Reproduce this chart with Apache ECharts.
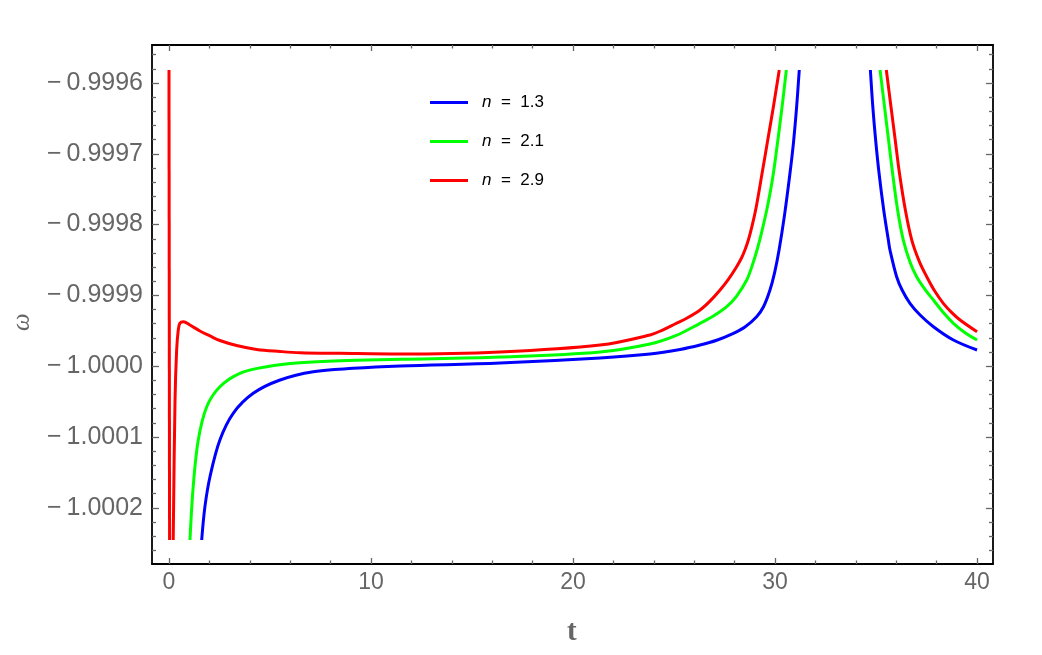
<!DOCTYPE html>
<html>
<head>
<meta charset="utf-8">
<script src="https://cdn.jsdelivr.net/npm/echarts@6/dist/echarts.min.js"></script>
<style>
  html, body { margin: 0; padding: 0; background: #fff; }
  #chart { width: 1042px; height: 655px; }
</style>
</head>
<body>
<div id="chart"></div>
<script>
// 曲线数据
const blueLeftT = [1.62, 1.78, 2.03, 2.52, 3.18, 4.17, 5.5, 7.14, 9.12, 11.44, 16.39, 21.34, 23.81, 25.3, 26.29, 27.11, 27.94, 28.51, 29.09, 29.43, 29.75, 29.98, 30.2, 30.47, 30.74, 30.91, 31.07, 31.2];
const blueLeftW = [-1.0002455, -1.0001984, -1.0001561, -1.0001042, -1.0000665, -1.0000383, -1.0000195, -1.0000078, -1.000003, -0.9999997, -0.9999955, -0.9999884, -0.9999828, -0.9999764, -0.9999701, -0.9999633, -0.9999535, -0.9999446, -0.9999301, -0.999916, -0.9998924, -0.9998678, -0.9998359, -0.9997866, -0.9997275, -0.9996852, -0.9996335, -0.9995816];
const blueRightT = [34.72, 34.84, 34.98, 35.15, 35.38, 35.61, 35.69, 36.02, 36.29, 36.68, 37.18, 37.84, 38.83, 40];
const blueRightW = [-0.9995816, -0.9996335, -0.9996805, -0.9997275, -0.9997794, -0.9998218, -0.9998359, -0.9998736, -0.9998924, -0.9999112, -0.9999277, -0.9999442, -0.999963, -0.9999771];

const greenLeftT = [1.04, 1.2, 1.45, 1.87, 2.52, 3.51, 4.84, 6.49, 8.47, 11.44, 16.39, 21.34, 23.81, 25.05, 26.29, 26.95, 27.61, 28.1, 28.6, 28.85, 29.11, 29.34, 29.58, 29.75, 29.92, 30.13, 30.35, 30.56];
const greenLeftW = [-1.0002455, -1.0001702, -1.0001042, -1.0000572, -1.000029, -1.00001, -1.0000007, -0.9999951, -0.9999922, -0.9999903, -0.999987, -0.9999799, -0.9999686, -0.9999573, -0.9999394, -0.9999292, -0.999916, -0.999901, -0.9998782, -0.9998597, -0.9998359, -0.9998105, -0.9997808, -0.9997562, -0.9997275, -0.9996829, -0.9996335, -0.9995816];
const greenRightT = [35.2, 35.42, 35.62, 35.82, 36.08, 36.35, 36.68, 37.01, 37.43, 37.84, 38.33, 38.83, 39.41, 40];
const greenRightW = [-0.9995816, -0.9996335, -0.9996805, -0.9997275, -0.9997814, -0.9998218, -0.9998527, -0.9998736, -0.9998918, -0.9999065, -0.9999242, -0.9999394, -0.9999528, -0.999963];

const redSpikeT = [0, 0.03];
const redSpikeW = [-0.9995816, -1.0002455];
const redLeftT = [0.21, 0.3, 0.38, 0.46, 0.54, 0.71, 1.04, 1.53, 2.03, 2.52, 3.35, 4.34, 5.5, 6.49, 8.47, 11.44, 16.39, 21.34, 23.81, 24.43, 25.05, 25.67, 26.29, 26.78, 27.28, 27.69, 28.1, 28.34, 28.51, 28.68, 28.87, 29.06, 29.36, 29.64, 29.92, 30.21];
const redLeftW = [-1.0002455, -1.0000477, -0.9999771, -0.9999489, -0.9999394, -0.9999371, -0.9999418, -0.9999503, -0.9999573, -0.9999637, -0.9999708, -0.9999764, -0.9999792, -0.9999809, -0.9999818, -0.9999828, -0.9999799, -0.9999701, -0.9999559, -0.999949, -0.9999404, -0.9999316, -0.9999206, -0.9999081, -0.9998924, -0.9998774, -0.9998595, -0.9998472, -0.9998359, -0.9998218, -0.9998011, -0.9997766, -0.9997275, -0.9996805, -0.9996335, -0.9995816];
const redRightT = [35.51, 35.74, 35.95, 36.16, 36.47, 36.77, 37.14, 37.51, 37.92, 38.33, 38.75, 39.16, 40];
const redRightW = [-0.9995816, -0.9996335, -0.9996805, -0.9997275, -0.9997823, -0.9998218, -0.9998519, -0.9998736, -0.9998946, -0.9999112, -0.9999243, -0.9999347, -0.9999513];

// 刻度
const xMajor = [0, 10, 20, 30, 40];
const xMinor = [2, 4, 6, 8, 12, 14, 16, 18, 22, 24, 26, 28, 32, 34, 36, 38];
const yMajor = [-1.0002, -1.0001, -1.0000, -0.9999, -0.9998, -0.9997, -0.9996];
const yMinor = [-1.00026, -1.00024, -1.00022, -1.00018, -1.00016, -1.00014, -1.00012,
  -1.00008, -1.00006, -1.00004, -1.00002, -0.99998, -0.99996, -0.99994, -0.99992,
  -0.99988, -0.99986, -0.99984, -0.99982, -0.99978, -0.99976, -0.99974, -0.99972,
  -0.99968, -0.99966, -0.99964, -0.99962, -0.99958, -0.99956];

const X_MIN = -0.84, X_MAX = 40.79;
const Y_MIN = -1.0002794, Y_MAX = -0.9995463;

const FONT = 'Liberation Sans, Arial, sans-serif';
const TICK_COLOR = '#666';

const zip = (ts, ws) => ts.map((t, i) => [t, ws[i]]);

const makeX = (position, ticks, len, withLine, withLabel) => ({
  type: 'value', position, min: X_MIN, max: X_MAX,
  axisLine: { show: withLine, onZero: false, lineStyle: { color: '#000', width: 1.8 } },
  axisTick: { show: true, inside: true, length: len, customValues: ticks, lineStyle: { color: TICK_COLOR, width: 1.3 } },
  axisLabel: withLabel
    ? { show: true, customValues: ticks, fontSize: 23, color: '#666', fontFamily: FONT, margin: 7 }
    : { show: false },
  splitLine: { show: false }
})

const makeY = (position, ticks, len, withLine, withLabel) => ({
  type: 'value', position, min: Y_MIN, max: Y_MAX,
  axisLine: { show: withLine, onZero: false, lineStyle: { color: '#000', width: 1.8 } },
  axisTick: { show: true, inside: true, length: len, customValues: ticks, lineStyle: { color: TICK_COLOR, width: 1.3 } },
  axisLabel: withLabel
    ? {
        show: true, customValues: ticks, fontSize: 25, color: '#666', fontFamily: FONT, margin: 9,
        formatter: (v) => '\u2212\u2009' + Math.abs(v).toFixed(4)
      }
    : { show: false },
  splitLine: { show: false }
})

const lineSeries = (name, color, data) => ({
  name, type: 'line', data, showSymbol: false, symbol: 'none',
  smooth: 0.35,
  lineStyle: { color, width: 3 }, itemStyle: { color },
  emphasis: { disabled: true }, clip: true
})

const chart = echarts.init(document.getElementById('chart'))

chart.setOption({
  animation: false,
  backgroundColor: '#fff',
  grid: { left: 152, top: 45, width: 841, height: 519, containLabel: false },
  xAxis: [
    makeX('bottom', xMajor, 6, true, true),
    makeX('bottom', xMinor, 3.5, false, false),
    makeX('top', xMajor, 6, true, false),
    makeX('top', xMinor, 3.5, false, false)
  ],
  yAxis: [
    makeY('left', yMajor, 7, true, true),
    makeY('left', yMinor, 4, false, false),
    makeY('right', yMajor, 7, true, false),
    makeY('right', yMinor, 4, false, false)
  ],
  legend: {
    orient: 'vertical', left: 430, top: 94, padding: 0,
    itemWidth: 38, itemHeight: 3, icon: 'rect', itemGap: 22,
    data: ['n = 1.3', 'n = 2.1', 'n = 2.9'],
    formatter: (name) => '{i|n}  =  ' + name.slice(4),
    textStyle: {
      fontSize: 17, color: '#000', fontFamily: FONT, padding: [0, 0, 0, 9],
      rich: { i: { fontSize: 17, fontStyle: 'italic', color: '#000', fontFamily: FONT } }
    }
  },
  graphic: [
    { type: 'text', left: 567, top: 618, style: { text: 't', font: 'bold 29px "Liberation Serif", serif', fill: '#666' } },
    { type: 'text', x: 10, y: 331, rotation: Math.PI / 2, style: { text: 'ω', font: 'italic 25px "Liberation Serif", serif', fill: '#666' } }
  ],
  series: [
    lineSeries('n = 1.3', '#0000ff', zip(blueLeftT, blueLeftW)),
    lineSeries('n = 1.3', '#0000ff', zip(blueRightT, blueRightW)),
    lineSeries('n = 2.1', '#00ff00', zip(greenLeftT, greenLeftW)),
    lineSeries('n = 2.1', '#00ff00', zip(greenRightT, greenRightW)),
    lineSeries('n = 2.9', '#ff0000', zip(redSpikeT, redSpikeW)),
    lineSeries('n = 2.9', '#ff0000', zip(redLeftT, redLeftW)),
    lineSeries('n = 2.9', '#ff0000', zip(redRightT, redRightW))
  ]
})
</script>
</body>
</html>
